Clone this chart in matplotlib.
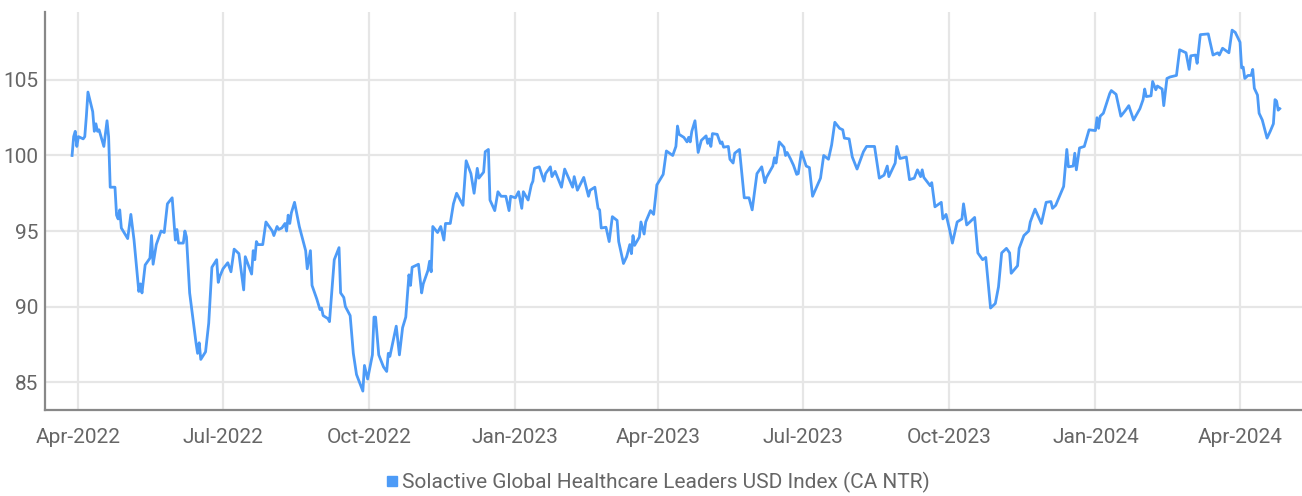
import matplotlib
matplotlib.use("Agg")
import matplotlib.pyplot as plt
import matplotlib.dates as mdates
from matplotlib.lines import Line2D
import pandas as pd

plt.rcParams['font.family'] = ['Roboto', 'DejaVu Sans']

series_name = 'Solactive Global Healthcare Leaders USD Index (CA NTR)'

# values, one line per month
dates = [
    '2022-03-28', '2022-03-29', '2022-03-30', '2022-03-31',
    '2022-04-01', '2022-04-04', '2022-04-05', '2022-04-06', '2022-04-07', '2022-04-10', '2022-04-11', '2022-04-12', '2022-04-13', '2022-04-14', '2022-04-17', '2022-04-19', '2022-04-20', '2022-04-21', '2022-04-24', '2022-04-25', '2022-04-26', '2022-04-27', '2022-04-28',
    '2022-05-02', '2022-05-04', '2022-05-06', '2022-05-09', '2022-05-10', '2022-05-11', '2022-05-13', '2022-05-16', '2022-05-17', '2022-05-18', '2022-05-20', '2022-05-23', '2022-05-25', '2022-05-27', '2022-05-30',
    '2022-06-01', '2022-06-02', '2022-06-03', '2022-06-06', '2022-06-07', '2022-06-08', '2022-06-10', '2022-06-14', '2022-06-15', '2022-06-16', '2022-06-17', '2022-06-20', '2022-06-22', '2022-06-24', '2022-06-27', '2022-06-28', '2022-06-29',
    '2022-07-01', '2022-07-04', '2022-07-06', '2022-07-08', '2022-07-11', '2022-07-14', '2022-07-15', '2022-07-19', '2022-07-20', '2022-07-21', '2022-07-22', '2022-07-23', '2022-07-26', '2022-07-28',
    '2022-08-01', '2022-08-02', '2022-08-04', '2022-08-05', '2022-08-07', '2022-08-09', '2022-08-10', '2022-08-11', '2022-08-12', '2022-08-13', '2022-08-15', '2022-08-18', '2022-08-22', '2022-08-23', '2022-08-25', '2022-08-26', '2022-08-29', '2022-08-31',
    '2022-09-01', '2022-09-02', '2022-09-05', '2022-09-06', '2022-09-09', '2022-09-12', '2022-09-13', '2022-09-15', '2022-09-16', '2022-09-19', '2022-09-21', '2022-09-23', '2022-09-27', '2022-09-28', '2022-09-30',
    '2022-10-03', '2022-10-04', '2022-10-05', '2022-10-07', '2022-10-10', '2022-10-12', '2022-10-13', '2022-10-14', '2022-10-18', '2022-10-20', '2022-10-22', '2022-10-24', '2022-10-26', '2022-10-27', '2022-10-28',
    '2022-11-01', '2022-11-03', '2022-11-04', '2022-11-07', '2022-11-08', '2022-11-09', '2022-11-10', '2022-11-13', '2022-11-15', '2022-11-16', '2022-11-17', '2022-11-18', '2022-11-21', '2022-11-23', '2022-11-25', '2022-11-29',
    '2022-12-01', '2022-12-04', '2022-12-06', '2022-12-08', '2022-12-09', '2022-12-12', '2022-12-13', '2022-12-15', '2022-12-16', '2022-12-19', '2022-12-21', '2022-12-23', '2022-12-26', '2022-12-28', '2022-12-29',
    '2023-01-01', '2023-01-03', '2023-01-05', '2023-01-06', '2023-01-09', '2023-01-11', '2023-01-12', '2023-01-13', '2023-01-16', '2023-01-19', '2023-01-20', '2023-01-23', '2023-01-24', '2023-01-26', '2023-01-30',
    '2023-02-01', '2023-02-06', '2023-02-07', '2023-02-09', '2023-02-13', '2023-02-16', '2023-02-17', '2023-02-20', '2023-02-22', '2023-02-23', '2023-02-24', '2023-02-27',
    '2023-03-01', '2023-03-03', '2023-03-06', '2023-03-07', '2023-03-10', '2023-03-12', '2023-03-14', '2023-03-15', '2023-03-16', '2023-03-17', '2023-03-20', '2023-03-21', '2023-03-23', '2023-03-24', '2023-03-27', '2023-03-29', '2023-03-30', '2023-03-31',
    '2023-04-04', '2023-04-06', '2023-04-10', '2023-04-12', '2023-04-13', '2023-04-14', '2023-04-17', '2023-04-19', '2023-04-20', '2023-04-21', '2023-04-22', '2023-04-24', '2023-04-26', '2023-04-28',
    '2023-05-01', '2023-05-02', '2023-05-03', '2023-05-04', '2023-05-05', '2023-05-08', '2023-05-10', '2023-05-11', '2023-05-12', '2023-05-15', '2023-05-16', '2023-05-18', '2023-05-19', '2023-05-22', '2023-05-25', '2023-05-28', '2023-05-30',
    '2023-06-02', '2023-06-05', '2023-06-07', '2023-06-08', '2023-06-12', '2023-06-13', '2023-06-14', '2023-06-16', '2023-06-19', '2023-06-20', '2023-06-21', '2023-06-23', '2023-06-25', '2023-06-27', '2023-06-28', '2023-06-30',
    '2023-07-03', '2023-07-05', '2023-07-07', '2023-07-12', '2023-07-14', '2023-07-17', '2023-07-19', '2023-07-21', '2023-07-24', '2023-07-26', '2023-07-27', '2023-07-30',
    '2023-08-01', '2023-08-04', '2023-08-08', '2023-08-10', '2023-08-15', '2023-08-18', '2023-08-21', '2023-08-23', '2023-08-24', '2023-08-28', '2023-08-29', '2023-08-31',
    '2023-09-04', '2023-09-06', '2023-09-09', '2023-09-11', '2023-09-13', '2023-09-14', '2023-09-15', '2023-09-19', '2023-09-20', '2023-09-22', '2023-09-26', '2023-09-27', '2023-09-29',
    '2023-10-01', '2023-10-03', '2023-10-06', '2023-10-09', '2023-10-10', '2023-10-12', '2023-10-17', '2023-10-19', '2023-10-22', '2023-10-24', '2023-10-27', '2023-10-30',
    '2023-11-01', '2023-11-03', '2023-11-06', '2023-11-08', '2023-11-09', '2023-11-13', '2023-11-14', '2023-11-17', '2023-11-20', '2023-11-21', '2023-11-24', '2023-11-28',
    '2023-12-01', '2023-12-04', '2023-12-05', '2023-12-07', '2023-12-12', '2023-12-14', '2023-12-15', '2023-12-18', '2023-12-19', '2023-12-20', '2023-12-22', '2023-12-25', '2023-12-28',
    '2024-01-01', '2024-01-02', '2024-01-03', '2024-01-04', '2024-01-06', '2024-01-10', '2024-01-11', '2024-01-14', '2024-01-17', '2024-01-20', '2024-01-22', '2024-01-25', '2024-01-29', '2024-01-31',
    '2024-02-01', '2024-02-02', '2024-02-05', '2024-02-06', '2024-02-08', '2024-02-09', '2024-02-12', '2024-02-13', '2024-02-15', '2024-02-17', '2024-02-21', '2024-02-23', '2024-02-27', '2024-02-29',
    '2024-03-01', '2024-03-04', '2024-03-05', '2024-03-07', '2024-03-12', '2024-03-15', '2024-03-18', '2024-03-19', '2024-03-21', '2024-03-25', '2024-03-27', '2024-03-29',
    '2024-04-01', '2024-04-02', '2024-04-03', '2024-04-04', '2024-04-06', '2024-04-08', '2024-04-09', '2024-04-10', '2024-04-12', '2024-04-13', '2024-04-15', '2024-04-18', '2024-04-20', '2024-04-22', '2024-04-23', '2024-04-24', '2024-04-25', '2024-04-26',
]

index_level = [
    100.0, 101.25, 101.6, 100.6,
    101.25, 101.1, 101.25, 102.6, 104.2, 102.9, 101.6, 102.1, 101.6, 101.7, 100.6, 102.3, 101.25, 97.9, 97.9, 96.05, 95.8, 96.4, 95.2,
    94.5, 96.1, 94.4, 91.0, 91.5, 90.9, 92.75, 93.2, 94.7, 92.8, 94.1, 95.0, 94.9, 96.8, 97.2,
    94.4, 95.1, 94.2, 94.2, 95.0, 94.6, 90.9, 87.6, 86.9, 87.6, 86.5, 87.0, 88.9, 92.6, 93.1, 91.6, 92.0,
    92.5, 92.9, 92.3, 93.8, 93.5, 91.1, 93.3, 92.15, 93.7, 93.1, 94.3, 94.1, 94.1, 95.6,
    95.0, 94.7, 95.3, 95.1, 95.2, 95.5, 95.0, 96.05, 95.5, 96.2, 96.9, 95.3, 93.7, 92.5, 93.7, 91.4, 90.5, 89.8,
    89.9, 89.4, 89.2, 89.0, 93.1, 93.9, 90.9, 90.6, 90.0, 89.4, 86.9, 85.5, 84.4, 86.1, 85.2,
    86.8, 89.3, 89.3, 86.8, 86.0, 85.7, 86.9, 86.7, 88.7, 86.8, 88.6, 89.3, 92.1, 91.4, 92.6,
    92.8, 90.9, 91.5, 92.4, 93.0, 92.3, 95.3, 94.9, 95.3, 94.85, 94.4, 95.5, 95.5, 96.8, 97.5, 96.7,
    99.65, 98.8, 97.5, 99.15, 98.5, 98.9, 100.25, 100.4, 97.05, 96.35, 97.6, 97.3, 97.3, 96.35, 97.3,
    97.2, 97.6, 96.5, 97.6, 97.05, 98.05, 98.3, 99.15, 99.25, 98.3, 98.8, 99.25, 98.6, 98.95, 97.9,
    99.1, 97.9, 98.6, 97.7, 98.55, 97.3, 97.7, 97.9, 96.5, 96.4, 95.2, 95.25,
    94.3, 95.95, 95.7, 94.3, 92.85, 93.3, 94.1, 93.5, 94.7, 94.05, 94.6, 95.6, 94.8, 95.6, 96.35, 96.1, 97.05, 98.05,
    98.75, 100.3, 100.0, 100.6, 101.95, 101.4, 101.2, 100.9, 101.2, 100.9, 101.6, 102.3, 100.2, 101.0,
    101.3, 100.8, 101.1, 100.6, 101.45, 101.4, 100.8, 100.9, 100.55, 100.6, 99.75, 99.5, 100.15, 100.4, 97.2, 97.2, 96.4,
    98.8, 99.25, 98.2, 98.55, 99.3, 99.85, 99.5, 100.9, 100.55, 100.0, 100.2, 99.8, 99.35, 98.75, 98.8, 100.25,
    99.3, 99.2, 97.3, 98.5, 100.0, 99.75, 100.7, 102.2, 101.8, 101.7, 101.15, 101.1,
    99.9, 99.1, 100.25, 100.6, 100.6, 98.5, 98.7, 99.3, 98.6, 99.5, 100.6, 99.8,
    99.9, 98.4, 98.5, 99.05, 98.6, 99.05, 98.55, 98.0, 98.2, 96.6, 96.9, 95.8, 96.1,
    95.2, 94.2, 95.6, 95.8, 96.8, 95.4, 95.9, 93.55, 93.1, 93.25, 89.9, 90.2,
    91.3, 93.55, 93.85, 93.55, 92.2, 92.7, 93.85, 94.7, 95.0, 95.6, 96.45, 95.5,
    96.9, 96.95, 96.5, 96.7, 97.95, 100.4, 99.25, 99.3, 100.15, 99.05, 100.5, 100.6, 101.7,
    101.65, 102.5, 101.8, 102.6, 102.8, 104.1, 104.3, 104.05, 102.6, 103.0, 103.3, 102.35, 103.1, 103.7,
    104.4, 103.9, 103.95, 104.9, 104.35, 104.6, 104.4, 103.3, 105.1, 105.2, 105.3, 107.0, 106.8, 105.7,
    106.6, 106.65, 106.1, 108.0, 108.05, 106.65, 106.8, 106.65, 107.1, 106.8, 108.3, 108.15,
    107.5, 105.8, 105.85, 105.1, 105.3, 105.3, 105.7, 104.45, 104.0, 102.8, 102.35, 101.15, 101.6, 102.1, 103.7, 103.6, 103.0, 103.1,
]

y_ticks = [85, 90, 95, 100, 105]

x = pd.to_datetime(dates)

line_color = '#4d9bf7'
grid_color = '#e6e6e6'
text_color = '#666666'

fig = plt.figure(figsize=(13.02, 4.96), dpi=100)
ax = fig.add_axes([0.0346, 0.1734, 0.9654, 0.8024])

ax.plot(x, index_level, color=line_color, lw=2.0, solid_joinstyle='round')

ax.set_xlim(pd.Timestamp('2022-03-11'), pd.Timestamp('2024-05-10'))
ax.set_ylim(83.15, 109.5)

ax.xaxis.set_major_locator(mdates.MonthLocator(bymonth=[1, 4, 7, 10]))
ax.xaxis.set_major_formatter(mdates.DateFormatter('%b-%Y'))
ax.set_yticks(y_ticks)

ax.grid(True, color=grid_color, lw=1.6)
ax.set_axisbelow(True)

for side in ['top', 'right']:
    ax.spines[side].set_visible(False)
for side in ['left', 'bottom']:
    ax.spines[side].set_color('#888888')
    ax.spines[side].set_linewidth(1.6)

ax.tick_params(axis='both', length=0, labelsize=15, colors=text_color)
ax.tick_params(axis='x', pad=13)
ax.tick_params(axis='y', pad=5)

handle = Line2D([], [], marker='s', ls='none', color=line_color, markersize=6.5)
fig.legend([handle], [series_name], loc='center', bbox_to_anchor=(0.505, 0.027),
           frameon=False, fontsize=15, labelcolor=text_color,
           handlelength=0.6, handletextpad=0.2)

fig.savefig('out.png', dpi=100)
